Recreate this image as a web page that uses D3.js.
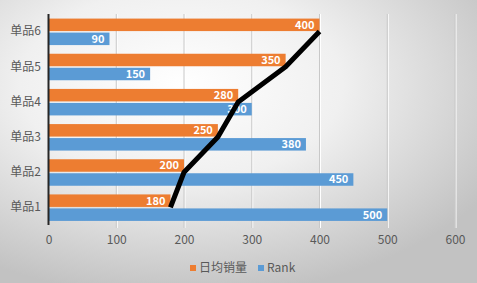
<!DOCTYPE html>
<html><head><meta charset="utf-8">
<script src="https://cdn.jsdelivr.net/npm/d3@7"></script>
<style>html,body{margin:0;padding:0;overflow:hidden;background:#fff}</style>
</head><body>
<svg id="c" width="477" height="283"></svg>
<script>
const categories = ["单品1","单品2","单品3","单品4","单品5","单品6"];
const sales = [180,200,250,280,350,400];
const rank = [500,450,380,300,150,90];
const xTicks = [0,100,200,300,400,500,600];
const seriesNames = ["日均销量","Rank"];
const colors = ["#ED7D31","#5B9BD5"];

const svg = d3.select("#c");
const W = 477, H = 283;
const defs = svg.append("defs");
const rg = defs.append("radialGradient").attr("id","bg").attr("cx","38%").attr("cy","30%").attr("r","75%");
rg.append("stop").attr("offset","0%").attr("stop-color","#ffffff");
rg.append("stop").attr("offset","45%").attr("stop-color","#f0f0f0");
rg.append("stop").attr("offset","100%").attr("stop-color","#c2c2c2");
svg.append("rect").attr("width",W).attr("height",H).attr("fill","url(#bg)");

const x = d3.scaleLinear().domain([0,600]).range([48.5,455]);
const y = d3.scaleBand().domain(categories.slice().reverse()).range([14,225]).padding(0);
const font = "'Noto Sans CJK SC','Noto Sans',sans-serif";

// gridlines
const grid = svg.append("g");
xTicks.slice(1).forEach(t=>{
  grid.append("line").attr("x1",x(t)+1).attr("x2",x(t)+1).attr("y1",14).attr("y2",228)
    .attr("stroke","#ffffff").attr("stroke-width",1);
  grid.append("line").attr("x1",x(t)).attr("x2",x(t)).attr("y1",14).attr("y2",228)
    .attr("stroke","#c8c8c8").attr("stroke-width",1);
});

// x axis labels
const xa = svg.append("g").attr("transform","translate(0,240)")
  .call(d3.axisBottom(x).tickValues(xTicks).tickSize(0).tickPadding(0));
xa.select(".domain").remove();
xa.selectAll("text").attr("font-family",font).attr("font-size",12).attr("fill","#595959").attr("dy","0.35em");

// y axis labels
const ya = svg.append("g").attr("transform","translate(41,0)")
  .call(d3.axisLeft(y).tickSize(0).tickPadding(0));
ya.select(".domain").remove();
ya.selectAll("text").attr("font-family",font).attr("font-size",12).attr("fill","#595959");

const data = categories.map((c,i)=>({c, s:sales[i], r:rank[i]}));
const bh = 12.5;
const bars = svg.append("g");
data.forEach(d=>{
  const cy = y(d.c)+y.bandwidth()/2;
  bars.append("rect").attr("x",x(0)).attr("y",cy-bh-0.5).attr("width",x(d.s)-x(0)).attr("height",bh).attr("fill",colors[0]);
  bars.append("rect").attr("x",x(0)).attr("y",cy+1).attr("width",x(d.r)-x(0)).attr("height",bh).attr("fill",colors[1]);
  bars.append("text").attr("x",x(d.s)-5).attr("y",cy-bh/2-0.5).attr("dy","0.35em").attr("text-anchor","end")
    .attr("font-family",font).attr("font-size",11).attr("font-weight","bold").attr("fill","#fff").text(d.s);
  bars.append("text").attr("x",x(d.r)-5).attr("y",cy+1+bh/2).attr("dy","0.35em").attr("text-anchor","end")
    .attr("font-family",font).attr("font-size",11).attr("font-weight","bold").attr("fill","#fff").text(d.r);
});

// axis line
svg.append("line").attr("x1",x(0)).attr("x2",x(0)).attr("y1",14).attr("y2",225)
  .attr("stroke","#262626").attr("stroke-width",2);

// line
const line = d3.line().x(d=>x(d.s)).y(d=>y(d.c)+y.bandwidth()/2);
svg.append("path").datum(data).attr("d",line).attr("fill","none")
  .attr("stroke","#000").attr("stroke-width",5).attr("stroke-linejoin","round");

// legend
const lg = svg.append("g").attr("transform","translate(0,268)");
const items = [{n:seriesNames[0],c:colors[0],x:190},{n:seriesNames[1],c:colors[1],x:258}];
items.forEach(it=>{
  lg.append("rect").attr("x",it.x).attr("y",-3).attr("width",6).attr("height",6).attr("fill",it.c);
  lg.append("text").attr("x",it.x+9).attr("y",0).attr("dy","0.35em").attr("font-family",font)
    .attr("font-size",12).attr("fill","#595959").text(it.n);
});
</script>
</body></html>
